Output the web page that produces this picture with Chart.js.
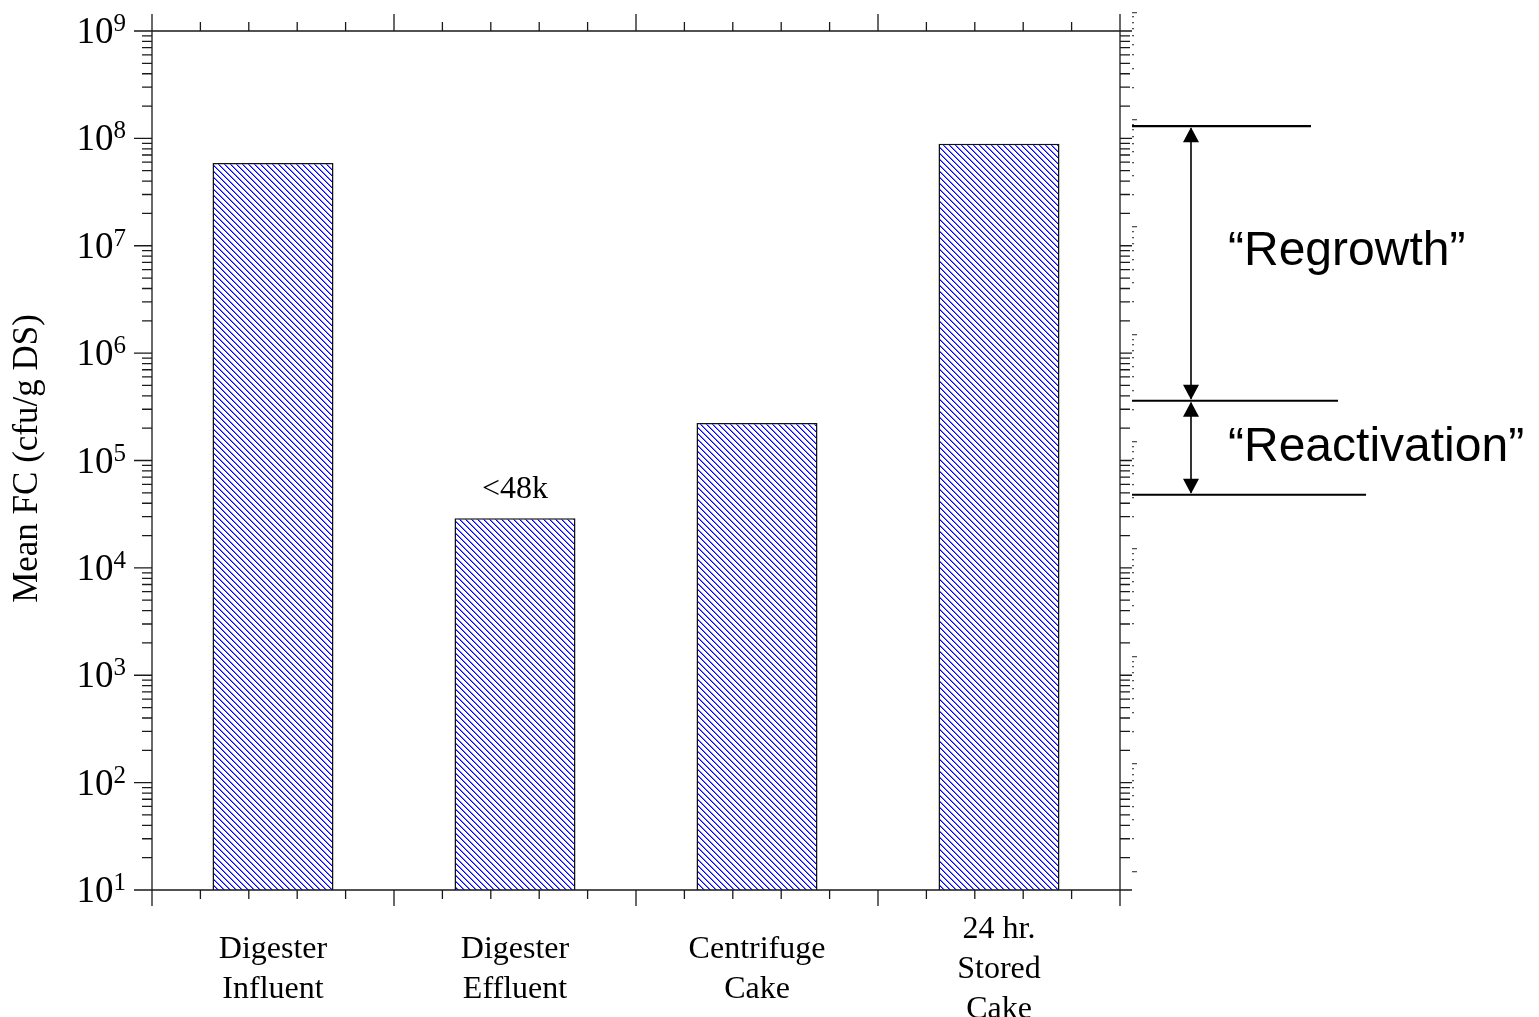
<!DOCTYPE html>
<html>
<head>
<meta charset="utf-8">
<script src="https://cdn.jsdelivr.net/npm/chart.js@4.4.1/dist/chart.umd.min.js"></script>
<style>
  html, body { margin: 0; padding: 0; background: #fff; }
  #wrap { width: 1539px; height: 1017px; position: relative; }
</style>
</head>
<body>
<div id="wrap"><canvas id="chart" width="1539" height="1017"></canvas></div>
<script>
// Sample stages along the treatment train (multi-line labels)
const categories = [
  ['Digester', 'Influent'],
  ['Digester', 'Effluent'],
  ['Centrifuge', 'Cake'],
  ['24 hr.', 'Stored', 'Cake']
];
// Mean fecal coliform, cfu/g DS
const meanFC = [5.9e7, 2.9e4, 2.23e5, 8.9e7];
// Text written above individual bars
const barNotes = ['', '<48k', '', ''];
// Decade exponents shown on the y axis (10^1 ... 10^9)
const decadeExponents = [1, 2, 3, 4, 5, 6, 7, 8, 9];
// Reference levels of the bracket on the right (cfu/g DS)
const bracketLevels = [1.3e8, 3.6e5, 4.8e4];
const bracketLabels = ['\u201CRegrowth\u201D', '\u201CReactivation\u201D'];
const yTitle = 'Mean FC (cfu/g DS)';

const SERIF = '"Liberation Serif", "Times New Roman", serif';
const SANS = '"Liberation Sans", Arial, sans-serif';

// Diagonal hatch fill for the bars, drawn pixel by pixel
function makeHatch() {
  const s = 6;
  const p = document.createElement('canvas');
  p.width = s; p.height = s;
  const g = p.getContext('2d');
  g.fillStyle = '#fff';
  g.fillRect(0, 0, s, s);
  for (let i = 0; i < s; i++) {
    g.fillStyle = '#0000ff';
    g.fillRect(i, i, 1, 1);
    g.fillStyle = '#7a7aff';
    g.fillRect((i + 1) % s, i, 1, 1);
  }
  return g.createPattern(p, 'repeat');
}

const axesPlugin = {
  id: 'framedAxes',
  afterDatasetsDraw(chart) {
    const ctx = chart.ctx;
    const xs = chart.scales.x, ys = chart.scales.y;
    const { left: L, right: R, top: T, bottom: B } = chart.chartArea;
    const n = categories.length;
    const catW = xs.getPixelForValue(1) - xs.getPixelForValue(0);
    const line = (x1, y1, x2, y2) => { ctx.moveTo(x1, y1); ctx.lineTo(x2, y2); };

    ctx.save();
    ctx.strokeStyle = '#1a1a1a';
    ctx.lineWidth = 1.3;
    ctx.beginPath();
    // frame verticals
    line(L, T - 17, L, B + 16);
    line(R, T - 17, R, B + 16);
    // y ticks, left (outward) and right (outward)
    decadeExponents.forEach((e) => {
      const y = ys.getPixelForValue(Math.pow(10, e));
      line(L - 18, y, L, y);
      line(R, y, R + 12, y);
      if (e < decadeExponents[decadeExponents.length - 1]) {
        for (let m = 2; m <= 9; m++) {
          const ym = ys.getPixelForValue(m * Math.pow(10, e));
          line(L - 10, ym, L, ym);
          line(R, ym, R + 10, ym);
        }
      }
    });
    // horizontal frame lines
    line(L, T, R, T);
    line(L, B, R, B);
    // x ticks (category boundaries long, fifths short), bottom and top
    for (let i = 0; i <= n; i++) {
      const xb = xs.getPixelForValue(0) - catW / 2 + i * catW;
      line(xb, B, xb, B + 16);
      line(xb, T, xb, T - 17);
      if (i < n) {
        for (let k = 1; k < 5; k++) {
          const xm = xb + k * catW / 5;
          line(xm, B, xm, B + 9);
          line(xm, T, xm, T - 9);
        }
      }
    }
    ctx.stroke();

    // faint secondary dotted scale just outside the right frame
    ctx.fillStyle = '#555';
    const shift = -19.5;
    decadeExponents.forEach((e) => {
      const y = ys.getPixelForValue(Math.pow(10, e)) + shift;
      ctx.fillRect(R + 12, Math.round(y), 5, 1.3);
      if (e > decadeExponents[0]) {
        for (let m = 2; m <= 9; m++) {
          const ym = ys.getPixelForValue(m * Math.pow(10, e - 1)) + shift;
          ctx.fillRect(R + 12, Math.round(ym), 2, 1.3);
        }
      }
    });

    // y tick labels 10^n
    ctx.fillStyle = '#000';
    ctx.textBaseline = 'alphabetic';
    decadeExponents.forEach((e) => {
      const y = ys.getPixelForValue(Math.pow(10, e));
      ctx.font = '25px ' + SERIF;
      const sup = String(e);
      const supW = ctx.measureText(sup).width;
      const rightEdge = L - 26;
      ctx.textAlign = 'right';
      ctx.fillText(sup, rightEdge, y + 0);
      ctx.font = '37px ' + SERIF;
      ctx.fillText('10', rightEdge - supW, y + 12);
    });

    // y axis title
    ctx.save();
    ctx.translate(28, (T + B) / 2 - 2);
    ctx.rotate(-Math.PI / 2);
    ctx.font = '35px ' + SERIF;
    ctx.textAlign = 'center';
    ctx.textBaseline = 'middle';
    ctx.fillText(yTitle, 0, 0);
    ctx.restore();

    // category labels, centred as blocks under each bar
    ctx.font = '32px ' + SERIF;
    ctx.textAlign = 'center';
    ctx.textBaseline = 'alphabetic';
    const lh = 40, mid = B + 77;
    categories.forEach((lines, i) => {
      const x = xs.getPixelForValue(i);
      const first = mid - (lines.length - 1) * lh / 2 + 10.5;
      lines.forEach((t, j) => ctx.fillText(t, x, first + j * lh));
    });

    // notes above bars
    const meta = chart.getDatasetMeta(0);
    barNotes.forEach((t, i) => {
      if (!t) return;
      const bar = meta.data[i];
      ctx.fillText(t, bar.x, bar.y - 20);
    });

    // bracket on the right
    ctx.strokeStyle = '#000';
    ctx.lineWidth = 2.2;
    const ext = [191, 218, 246];
    const yl = bracketLevels.map((v) => ys.getPixelForValue(v));
    ctx.beginPath();
    yl.forEach((y, i) => line(R + 12, y, R + ext[i], y));
    ctx.stroke();
    const ax = R + 71;
    ctx.lineWidth = 1.6;
    ctx.fillStyle = '#000';
    const head = (tipY, dir) => {
      ctx.beginPath();
      ctx.moveTo(ax, tipY);
      ctx.lineTo(ax - 8, tipY + dir * 15);
      ctx.lineTo(ax + 8, tipY + dir * 15);
      ctx.closePath();
      ctx.fill();
    };
    for (let i = 0; i < yl.length - 1; i++) {
      const y1 = yl[i], y2 = yl[i + 1];
      ctx.beginPath();
      line(ax, y1 + 2, ax, y2 - 2);
      ctx.stroke();
      head(y1 + 1, 1);
      head(y2 - 1, -1);
    }
    ctx.font = '48px ' + SANS;
    ctx.textAlign = 'left';
    ctx.textBaseline = 'middle';
    const labelNudge = [-12, 0];
    bracketLabels.forEach((t, i) => {
      const ymid = (yl[i] + yl[i + 1]) / 2 + labelNudge[i];
      ctx.fillText(t, R + 108, ymid);
    });
    ctx.restore();
  }
};

const ctx = document.getElementById('chart').getContext('2d');
new Chart(ctx, {
  type: 'bar',
  data: {
    labels: categories.map((c) => c.join(' ')),
    datasets: [{
      data: meanFC,
      backgroundColor: makeHatch(),
      borderColor: '#111',
      borderWidth: 1.5,
      barPercentage: 0.5,
      categoryPercentage: 1.0
    }]
  },
  options: {
    responsive: false,
    animation: false,
    devicePixelRatio: 1,
    layout: { padding: { left: 152, right: 419, top: 31, bottom: 127 } },
    plugins: { legend: { display: false }, tooltip: { enabled: false } },
    scales: {
      x: { type: 'category', offset: true, display: false },
      y: { type: 'logarithmic', min: 10, max: 1e9, display: false }
    }
  },
  plugins: [axesPlugin]
});
</script>
</body>
</html>
